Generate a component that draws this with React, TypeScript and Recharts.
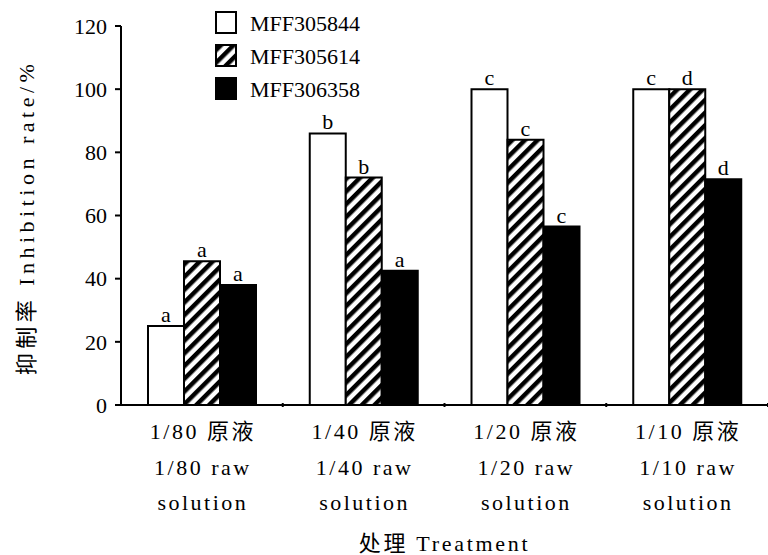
import React from "react";
import { BarChart, Bar, XAxis, YAxis, LabelList } from "recharts";

const categories = ["1/80", "1/40", "1/20", "1/10"];
const seriesNames = ["MFF305844", "MFF305614", "MFF306358"];
const mff305844 = [25, 86, 100, 100];
const mff305614 = [45.5, 72, 84, 100];
const mff306358 = [38, 42.5, 56.5, 71.5];
const letters305844 = ["a", "b", "c", "c"];
const letters305614 = ["a", "b", "c", "d"];
const letters306358 = ["a", "a", "c", "d"];
const yTicks = [0, 20, 40, 60, 80, 100, 120];

const FONT = "'Liberation Serif', 'Noto Sans CJK SC', serif";

const data = categories.map((c, i) => ({
  name: c,
  s0: mff305844[i],
  s1: mff305614[i],
  s2: mff306358[i],
  l0: letters305844[i],
  l1: letters305614[i],
  l2: letters306358[i],
}));

const fills = ["#fff", "url(#hatch)", "#000"];

const Hatch = ({ id }: { id: string }) => (
  <pattern id={id} width={9} height={9} patternUnits="userSpaceOnUse" patternTransform="rotate(45)">
    <rect width={9} height={9} fill="#fff" />
    <rect x={0} y={0} width={4.5} height={9} fill="#000" />
  </pattern>
);

// category label: three lines, plus a small mark at the right edge of each group
const XTick = (props: any) => {
  const { x, y, payload } = props;
  const half = payload?.offset ?? 81;
  return (
    <g>
      <line x1={x + half} x2={x + half} y1={y} y2={y - 4} stroke="#000" strokeWidth={2} />
      <text x={x + 1} y={y} textAnchor="middle" fontFamily={FONT} fontSize={22} letterSpacing={2.5} fill="#000">
        <tspan x={x + 1} dy={32}>{payload.value} 原液</tspan>
        <tspan x={x + 1} dy={36}>{payload.value} raw</tspan>
        <tspan x={x + 1} dy={35}>solution</tspan>
      </text>
    </g>
  );
};

const YLabel = (props: any) => {
  const vb = props.viewBox || { x: 0, y: 26, width: 121, height: 379 };
  const cx = vb.x + 26;
  const cy = vb.y + vb.height / 2 + 2;
  return (
    <text x={cx} y={cy} transform={`rotate(-90 ${cx} ${cy})`} textAnchor="middle" dominantBaseline="central"
      fontFamily={FONT} fontSize={22} letterSpacing={4.5} fill="#000">
      抑制率 Inhibition rate/%
    </text>
  );
};

const LegendBox = () => (
  <svg width={200} height={110} style={{ position: "absolute", left: 212, top: 0 }}>
    <defs>
      <Hatch id="hatchLegend" />
    </defs>
    {seriesNames.map((n, i) => (
      <g key={n}>
        <rect x={4} y={12 + i * 33} width={20} height={21}
          fill={i === 1 ? "url(#hatchLegend)" : fills[i]} stroke="#000" strokeWidth={2} />
        <text x={38} y={23 + i * 33} dominantBaseline="central" fontFamily={FONT} fontSize={22} fill="#000">
          {n}
        </text>
      </g>
    ))}
  </svg>
);

export default function App() {
  return (
    <div style={{ position: "absolute", left: 0, top: 0, width: 768, height: 555, background: "#fff" }}>
      <BarChart width={768} height={555} data={data} margin={{ top: 26, right: 0, left: 0, bottom: 0 }}
        barGap={0} barSize={36}>
        <defs>
          <Hatch id="hatch" />
        </defs>
        <XAxis dataKey="name" height={150} tickSize={0} tickLine={false} tick={<XTick />}
          axisLine={{ stroke: "#000", strokeWidth: 2 }}
          label={{ value: "处理 Treatment", position: "insideBottom", offset: 4, fill: "#000", fontSize: 22, fontFamily: FONT, letterSpacing: 2.7 }} />
        <YAxis width={121} domain={[0, 120]} ticks={yTicks} interval={0} tickSize={6} tickMargin={8}
          axisLine={{ stroke: "#000", strokeWidth: 2 }} tickLine={{ stroke: "#000", strokeWidth: 2 }}
          tick={{ fill: "#000", fontSize: 22, fontFamily: FONT }}
          label={<YLabel />} />
        {[0, 1, 2].map((i) => (
          <Bar key={i} dataKey={`s${i}`} name={seriesNames[i]} fill={fills[i]} stroke="#000" strokeWidth={2}
            isAnimationActive={false}>
            <LabelList dataKey={`l${i}`} position="top" offset={4} fill="#000" fontSize={22} fontFamily={FONT} />
          </Bar>
        ))}
      </BarChart>
      <LegendBox />
    </div>
  );
}
